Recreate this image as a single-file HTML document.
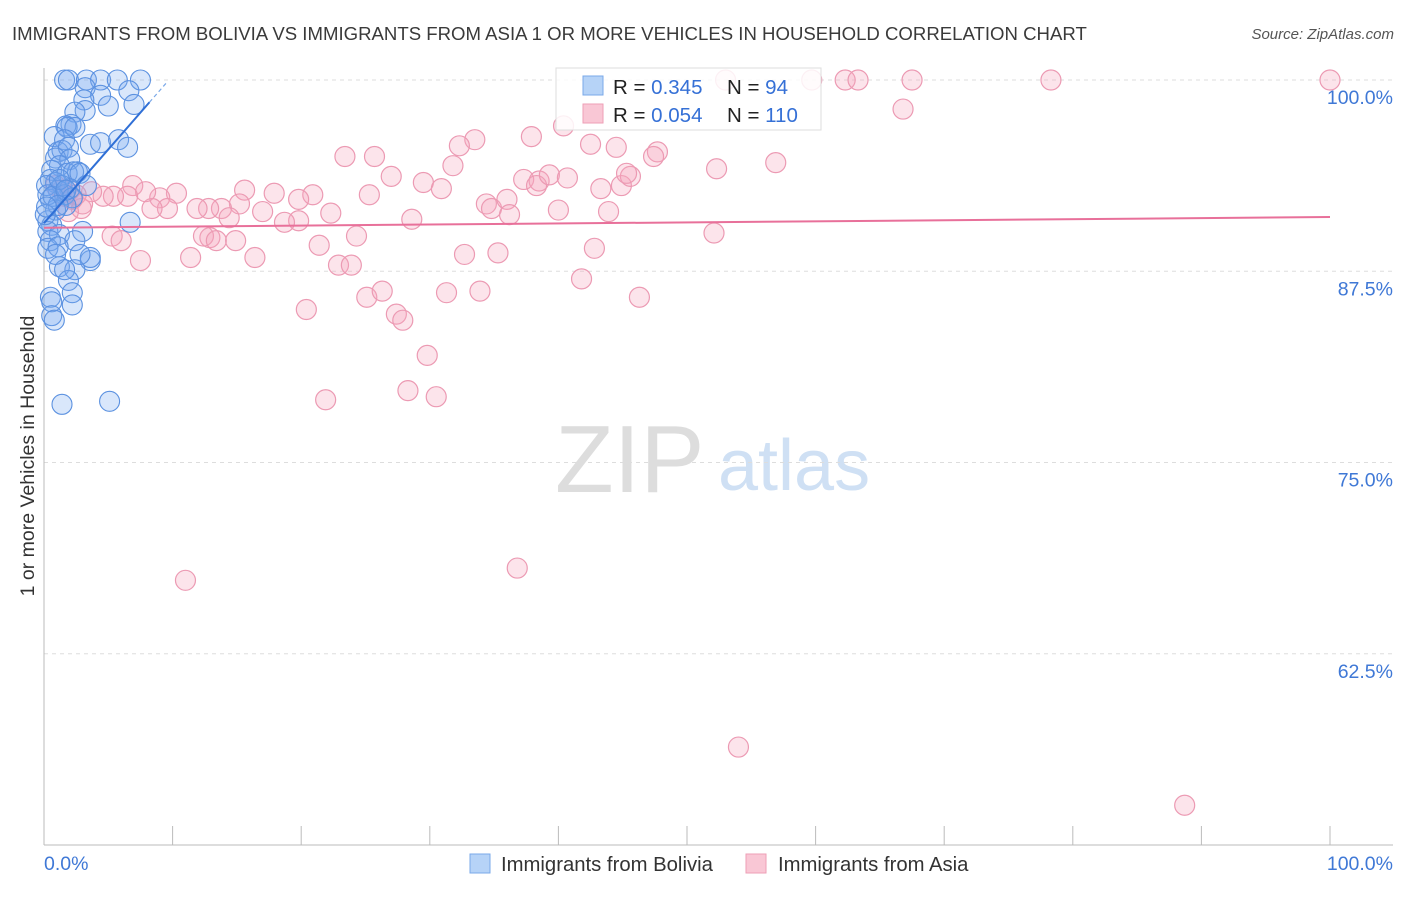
<!DOCTYPE html>
<html><head><meta charset="utf-8"><style>
body{margin:0;background:#fff;font-family:"Liberation Sans",sans-serif;}
svg text{font-family:"Liberation Sans",sans-serif;}
</style></head><body>
<svg id="chart" width="1406" height="892" xmlns="http://www.w3.org/2000/svg">
<text x="12" y="40" font-size="18.6" fill="#3a3a3a">IMMIGRANTS FROM BOLIVIA VS IMMIGRANTS FROM ASIA 1 OR MORE VEHICLES IN HOUSEHOLD CORRELATION CHART</text>
<text x="1394" y="39" font-size="15" fill="#555" text-anchor="end" font-style="italic">Source: ZipAtlas.com</text>
<text transform="translate(34,456) rotate(-90)" font-size="19.5" fill="#333" text-anchor="middle">1 or more Vehicles in Household</text>
<g>
<text x="555" y="492" font-size="96" fill="#ddd" font-family="Liberation Serif, serif">ZIP</text>
<text x="718" y="490" font-size="72" fill="#cfe0f4">atlas</text>
</g>
<g id="grid"></g>
<g id="axes"></g>
<g id="pts"></g>
<g id="trend"></g>
<g>
<rect x="556" y="68" width="265" height="62" fill="#fff" fill-opacity="0.85" stroke="#ddd"/>
<rect x="583" y="76" width="20" height="19" fill="#b6d3f7" stroke="#7aa8e8"/>
<rect x="583" y="104" width="20" height="19" fill="#f9c7d5" stroke="#ee9fb6"/>
<text x="613" y="94" font-size="20.5" fill="#222">R = <tspan fill="#3570d6">0.345</tspan></text>
<text x="727" y="94" font-size="20.5" fill="#222">N = <tspan fill="#3570d6"> 94</tspan></text>
<text x="613" y="122" font-size="20.5" fill="#222">R = <tspan fill="#3570d6">0.054</tspan></text>
<text x="727" y="122" font-size="20.5" fill="#222">N = <tspan fill="#3570d6">110</tspan></text>
</g>
<g>
<rect x="470" y="854" width="20" height="19" fill="#b6d3f7" stroke="#7aa8e8"/>
<text x="501" y="871" font-size="20.3" fill="#333">Immigrants from Bolivia</text>
<rect x="746" y="854" width="20" height="19" fill="#f9c7d5" stroke="#ee9fb6"/>
<text x="778" y="871" font-size="20.3" fill="#333">Immigrants from Asia</text>
</g>
</svg>
<script>
const yTicks=[100,87.5,75,62.5];
const yTickLabels=["100.0%","87.5%","75.0%","62.5%"];
const xTickLabels=["0.0%","100.0%"];
const boliviaX=[1.6,1.9,3.3,4.4,5.7,7.5,3.2,4.4,3.1,6.6,7.0,5.0,3.2,2.4,2.1,1.7,1.8,2.4,0.8,1.6,3.6,4.4,5.8,6.5,1.1,1.4,1.9,0.9,2.0,1.2,0.6,2.6,1.8,2.3,2.8,0.5,0.9,1.4,2.0,3.3,1.1,1.6,2.2,0.5,1.7,0.9,0.3,0.6,6.7,0.3,3.0,1.2,2.4,0.5,0.3,1.1,3.6,1.2,2.4,1.9,2.2,0.5,0.6,2.2,0.6,0.8,1.4,5.1,0.2,0.3,0.7,1.2,1.7,1.1,3.6,2.8,1.6,0.9,0.1,0.2];
const boliviaY=[100,100,100,100,100,100,99.5,99.0,98.7,99.3,98.4,98.3,98.0,97.9,97.1,97.0,96.9,96.9,96.3,96.1,95.8,95.9,96.1,95.6,95.3,95.4,95.6,94.9,94.8,94.4,94.1,94.0,93.9,94.0,93.9,93.5,93.3,93.1,92.9,93.1,92.8,92.5,92.3,92.2,91.8,91.5,90.8,90.5,90.7,90.1,90.1,89.9,89.5,89.5,89.0,89.1,88.2,87.8,87.6,86.9,86.1,85.8,85.5,85.3,84.6,84.3,78.8,79.0,93.1,92.5,92.4,93.5,92.8,91.8,88.4,88.6,87.6,88.6,91.2,91.7];
const asiaX=[53.0,59.7,62.3,63.3,67.5,78.3,100,66.8,56.9,52.3,47.7,47.4,44.5,42.5,37.9,33.5,32.3,31.8,40.4,25.7,23.4,27.0,29.5,30.9,37.3,38.5,38.3,39.3,40.7,34.4,34.8,36.0,36.2,40.0,43.3,44.9,45.6,45.3,43.9,28.6,25.3,22.3,20.9,19.8,19.8,18.7,17.9,17.0,15.6,15.2,13.8,12.8,14.4,11.9,10.3,9.0,9.6,8.4,6.9,7.9,6.5,5.4,4.6,3.7,2.9,2.5,3.0,2.0,5.3,6.0,12.9,12.4,13.4,14.9,11.4,7.5,16.4,21.4,24.3,22.9,23.9,25.1,26.3,31.3,33.9,32.7,35.3,42.8,41.8,46.3,52.1,20.4,27.4,27.9,29.8,21.9,28.3,30.5,11.0,36.8,54.0,88.7,0.9,1.6,2.2,1.4,1.9];
const asiaY=[100,100,100,100,100,100,100,98.1,94.6,94.2,95.3,95.0,95.6,95.8,96.3,96.1,95.7,94.4,97.0,95.0,95.0,93.7,93.3,92.9,93.5,93.4,93.1,93.8,93.6,91.9,91.6,92.2,91.2,91.5,92.9,93.1,93.7,93.9,91.4,90.9,92.5,91.3,92.5,92.2,90.8,90.7,92.6,91.4,92.8,91.9,91.6,91.6,91.0,91.6,92.6,92.3,91.6,91.6,93.1,92.7,92.4,92.4,92.4,92.7,91.6,92.5,91.9,92.8,89.8,89.5,89.7,89.8,89.5,89.5,88.4,88.2,88.4,89.2,89.8,87.9,87.9,85.8,86.2,86.1,86.2,88.6,88.7,89.0,87.0,85.8,90.0,85.0,84.7,84.3,82.0,79.1,79.7,79.3,67.3,68.1,56.4,52.6,93.1,92.4,92.2,92.8,91.4];
const X=v=>44+v*12.86;
const Y=v=>80+(100-v)*15.3;
const NS="http://www.w3.org/2000/svg";
function mk(tag,attrs,parent){const e=document.createElementNS(NS,tag);for(const k in attrs)e.setAttribute(k,attrs[k]);parent.appendChild(e);return e;}
const grid=document.getElementById('grid'),axes=document.getElementById('axes');
yTicks.forEach((t,i)=>{
 const l=mk('line',{x1:44,x2:1393,y1:Y(t),y2:Y(t),stroke:'#ddd','stroke-dasharray':'4,4'},grid);
 
 
 const tx=mk('text',{x:1393,y:Y(t)+24,'font-size':19.5,fill:'#3f78d6','text-anchor':'end'},axes);
 tx.textContent=yTickLabels[i];
 
 
});
const ax=mk('line',{x1:44,x2:44,y1:68,y2:845,stroke:'#bbb'},axes);


const bx=mk('line',{x1:44,x2:1393,y1:845,y2:845,stroke:'#bbb'},axes);


for(let i=0;i<=10;i++){
 const t=mk('line',{x1:X(i*10),x2:X(i*10),y1:826,y2:845,stroke:'#bbb'},axes);
 
 
}
[[0,'start',44],[100,'end',1393]].forEach((d,i)=>{
 const tx=mk('text',{x:d[2],y:870,'font-size':19.5,fill:'#3f78d6','text-anchor':d[1]},axes);
 tx.textContent=xTickLabels[i];
 
 
});
const pts=document.getElementById('pts');
asiaX.forEach((x,i)=>{
 const c=mk('circle',{cx:X(x),cy:Y(asiaY[i]),r:10,fill:'rgba(246,165,190,0.3)',stroke:'#ec9ab3','stroke-width':1.2},pts);
 
 
});
boliviaX.forEach((x,i)=>{
 const c=mk('circle',{cx:X(x),cy:Y(boliviaY[i]),r:10,fill:'rgba(120,170,240,0.28)',stroke:'#5b91e0','stroke-width':1.1},pts);
 
 
});
function reg(xs,ys){const n=xs.length;let mx=0,my=0;xs.forEach((x,i)=>{mx+=x;my+=ys[i]});mx/=n;my/=n;let sxy=0,sxx=0;xs.forEach((x,i)=>{sxy+=(x-mx)*(ys[i]-my);sxx+=(x-mx)**2});const b=sxy/sxx;return [my-b*mx,b];}
const tr=document.getElementById('trend');
const [ba,bb]=reg(boliviaX,boliviaY);
const l1=mk('line',{x1:X(0),y1:Y(ba),x2:X(8.2),y2:Y(ba+bb*8.2),stroke:'#2f6fd6','stroke-width':2},tr);


const l1d=mk('line',{x1:X(8.2),y1:Y(ba+bb*8.2),x2:X(9.5),y2:Y(ba+bb*9.5),stroke:'#7aa8e8','stroke-width':1.2,'stroke-dasharray':'4,3'},tr);


const [aa,ab]=reg(asiaX,asiaY);
const l2=mk('line',{x1:X(0),y1:Y(aa),x2:X(100),y2:Y(aa+ab*100),stroke:'#e8709a','stroke-width':2},tr);


</script>
</body></html>
